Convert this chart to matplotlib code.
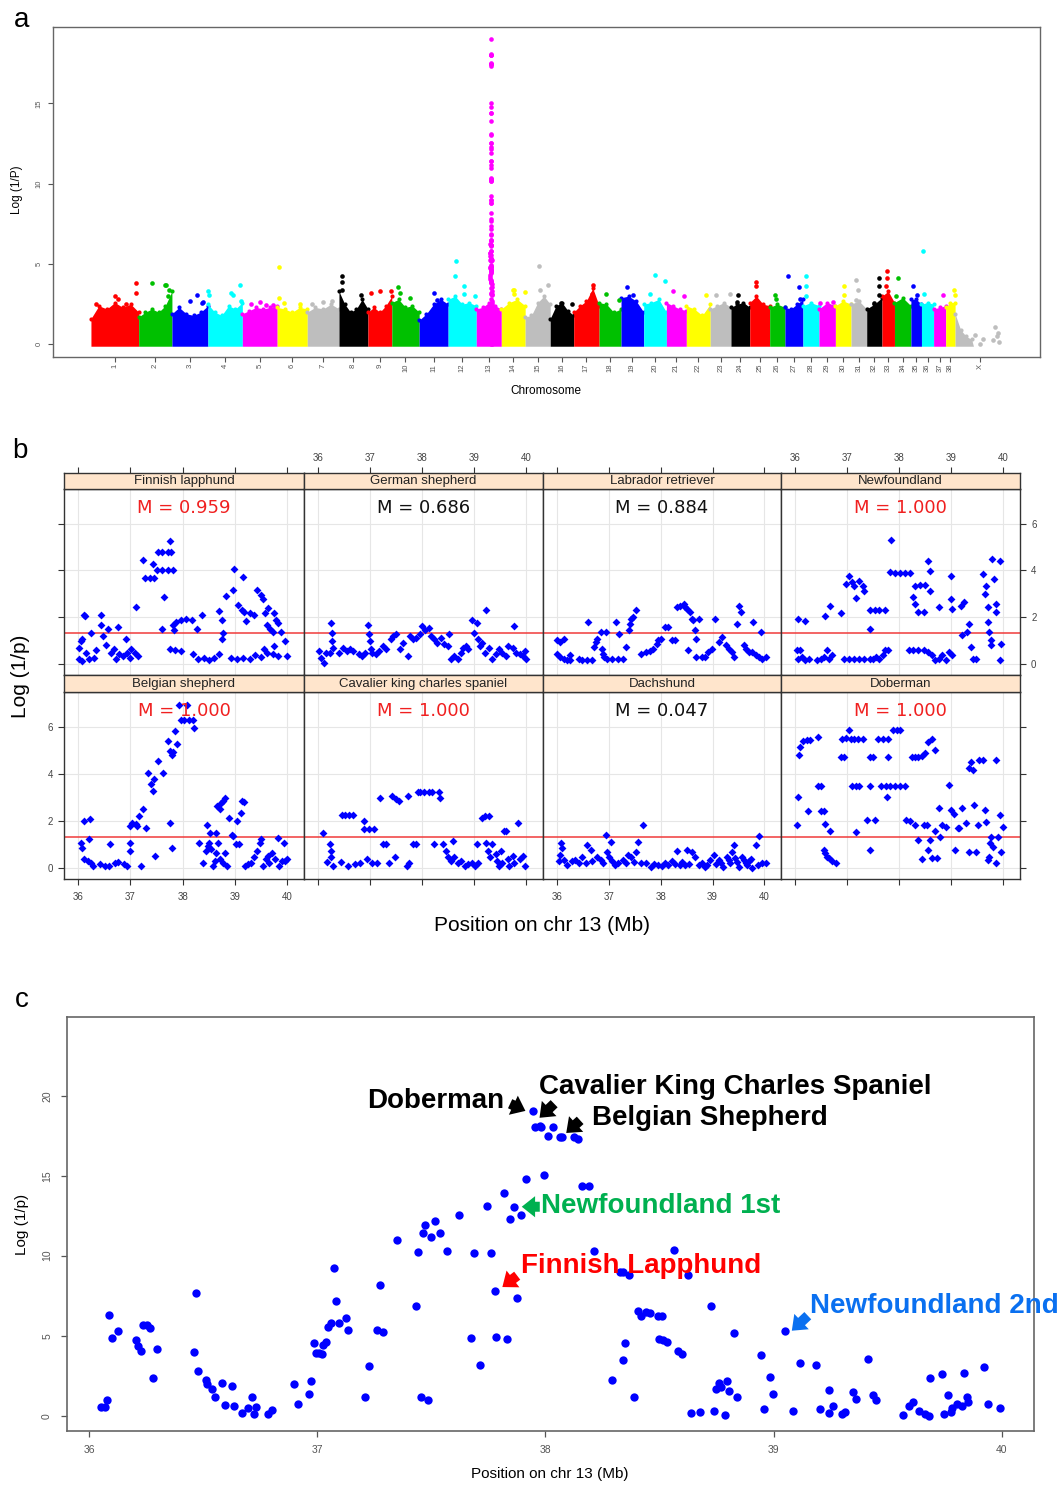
#!/usr/bin/env python3

import numpy as np
import matplotlib
matplotlib.use("Agg")
import matplotlib.pyplot as plt
from matplotlib.patches import FancyArrowPatch

plt.rcParams["font.family"] = ["Liberation Sans", "DejaVu Sans"]

W, H = 1062, 1485

# ---------------- panel a: genome-wide scan ----------------
chrom_names = [str(i) for i in range(1, 39)] + ["X"]
chrom_len = [122, 85, 92, 88, 89, 77, 81, 74, 61, 70, 74, 72, 64, 61, 64, 60, 65, 56, 58,
             58, 51, 61, 53, 48, 51, 39, 46, 41, 42, 40, 40, 39, 32, 42, 27, 31, 31, 24, 127]
# upper edge of the dense bulk of SNPs, along each chromosome
chrom_env = [
    [1.6, 2.4, 2.2, 2.6, 2.3, 2.5, 2.0], [1.7, 2.0, 2.2, 2.0, 2.4, 3.3],
    [1.9, 2.3, 1.9, 1.8, 2.0, 2.4], [2.5, 2.0, 1.8, 2.4, 2.2, 2.6],
    [1.9, 2.1, 2.3, 2.2, 2.3, 2.4], [2.3, 2.2, 2.0, 2.3, 2.2],
    [2.0, 2.3, 2.2, 2.5, 2.2], [3.3, 2.5, 2.0, 2.2, 2.8, 2.2],
    [2.0, 2.3, 2.0, 2.4, 3.0], [2.6, 2.8, 2.3, 2.4, 2.0],
    [1.5, 1.9, 2.5, 2.8, 2.5], [2.8, 3.0, 2.5, 2.6, 2.4],
    [2.2, 2.3, 2.6, 2.4, 2.2], [2.2, 2.6, 2.8, 2.4],
    [1.7, 1.8, 2.6, 3.0, 2.5], [1.6, 2.4, 2.6, 2.1, 1.8],
    [2.0, 2.4, 2.7, 3.5, 2.4], [2.6, 2.5, 2.0, 2.2],
    [2.9, 3.0, 2.7, 2.0], [2.5, 2.6, 2.8, 2.0],
    [2.6, 2.4, 2.2, 2.1], [2.4, 2.2, 1.8, 2.5],
    [2.2, 2.4, 2.6, 2.3], [2.3, 2.5, 2.6, 2.3],
    [2.6, 3.0, 2.5, 2.4], [2.3, 2.5, 2.3],
    [2.3, 2.2, 2.5, 2.8], [2.4, 2.6, 2.4],
    [2.2, 2.6, 2.4], [2.4, 2.7, 2.5],
    [2.5, 2.7, 2.2], [2.2, 2.5, 2.9],
    [3.0, 3.3, 2.6], [2.6, 2.9, 2.4],
    [2.8, 2.8, 2.5], [2.5, 2.6, 2.5],
    [2.2, 2.3, 2.4], [2.3, 2.6, 2.6],
    [1.9, 0.9, 0.5, 0.3, -1, -1, -1, -1, -1, -1],
]
# isolated SNPs above the bulk: (chromosome, Mb, log(1/P))
peaks_a = [
    ("1", 12, 2.5), ("1", 61, 3.0), ("1", 70, 2.8), ("1", 89, 2.5), ("1", 116, 3.8), ("1", 116, 3.2),
    ("2", 35, 3.8), ("2", 67, 3.7), ("2", 71, 3.7), ("2", 78, 3.4), ("2", 76, 3.0),
    ("3", 46, 2.7), ("3", 63, 3.1), ("3", 76, 2.6), ("3", 80, 2.65),
    ("4", 1, 3.3), ("4", 3, 3.1), ("4", 58, 3.2), ("4", 64, 3.1), ("4", 83, 3.7), ("4", 84, 2.7),
    ("5", 21, 2.5), ("5", 45, 2.65), ("5", 60, 2.45), ("5", 78, 2.45),
    ("6", 5, 4.8), ("6", 5, 2.9), ("6", 18, 2.55), ("6", 58, 2.5),
    ("7", 11, 2.5), ("7", 39, 2.65), ("7", 62, 2.7),
    ("8", 8, 4.25), ("8", 8, 3.85), ("8", 7, 3.35), ("8", 56, 3.1),
    ("9", 9, 3.2), ("9", 32, 3.3), ("9", 59, 3.3),
    ("10", 16, 3.55), ("10", 20, 3.2), ("10", 46, 2.9),
    ("11", 38, 3.2), ("11", 45, 2.75),
    ("12", 19, 5.2), ("12", 18, 4.25), ("12", 40, 3.6), ("12", 40, 3.15), ("12", 68, 3.0),
    ("14", 30, 3.4), ("14", 33, 3.4), ("14", 32, 3.15), ("14", 60, 3.25),
    ("15", 36, 4.9), ("15", 59, 3.7), ("15", 37, 3.4),
    ("16", 27, 2.55), ("16", 55, 2.5),
    ("17", 50, 3.7), ("17", 46, 3.15),
    ("18", 18, 3.15), ("18", 52, 2.75),
    ("19", 14, 3.55), ("19", 31, 3.05),
    ("20", 29, 4.3), ("20", 54, 3.95), ("20", 16, 3.15),
    ("21", 18, 3.3), ("21", 45, 3.0),
    ("22", 50, 3.05),
    ("23", 15, 3.05), ("23", 51, 3.15),
    ("24", 17, 3.05), ("24", 16, 2.65),
    ("25", 16, 3.9), ("25", 17, 3.6), ("25", 22, 2.6),
    ("26", 14, 3.05), ("26", 16, 2.8),
    ("27", 7, 4.25), ("27", 37, 3.55), ("27", 38, 2.85),
    ("28", 8, 4.25), ("28", 9, 3.65), ("28", 8, 3.0),
    ("29", 3, 2.6), ("29", 35, 2.65),
    ("30", 22, 3.65), ("30", 21, 3.05),
    ("31", 13, 4.0), ("31", 17, 3.4), ("31", 12, 2.75),
    ("32", 32, 4.1), ("32", 32, 3.6), ("32", 32, 3.05), ("32", 18, 2.6),
    ("33", 12, 4.55), ("33", 13, 4.1), ("33", 10, 3.6),
    ("34", 10, 4.1), ("34", 5, 3.0),
    ("35", 5, 3.65), ("35", 15, 3.05),
    ("36", 5, 5.8), ("36", 6, 3.15),
    ("37", 25, 3.1),
    ("38", 22, 3.35), ("38", 23, 3.05),
    ("X", 51, 0.6), ("X", 72, 0.35), ("X", 102, 1.05), ("X", 106, 0.5),
    ("X", 110, 0.7), ("X", 112, 0.15), ("X", 98, 0.25), ("X", 64, 0.05),
]
palette = ["#FF0000", "#00C000", "#0000FF", "#00FFFF", "#FF00FF", "#FFFF00", "#BEBEBE", "#000000"]

# ---------------- panel b: per-breed chr13 scans ----------------
breeds = ["Finnish lapphund", "German shepherd", "Labrador retriever", "Newfoundland",
          "Belgian shepherd", "Cavalier king charles spaniel", "Dachshund", "Doberman"]
breed_m = [0.959, 0.686, 0.884, 1.000, 1.000, 1.000, 0.047, 1.000]

finnish = [(36.01, 0.68), (36.07, 1.04), (36.05, 0.96), (36.12, 2.10), (36.14, 2.03), (36.16, 0.47),
           (36.02, 0.21), (36.07, 0.11), (36.21, 0.18), (36.25, 1.32), (36.30, 0.26), (36.35, 0.58),
           (36.44, 2.10), (36.44, 1.67), (36.48, 1.18), (36.53, 0.78), (36.58, 1.49), (36.63, 0.47),
           (36.68, 0.61), (36.72, 0.18), (36.76, 1.56), (36.79, 0.40), (36.86, 0.33), (36.91, 1.06),
           (36.93, 0.47), (36.99, 0.26), (37.02, 0.61), (37.09, 0.47), (37.15, 0.33), (37.11, 2.43),
           (37.24, 4.44), (37.28, 3.69), (37.38, 3.69), (37.45, 3.69), (37.43, 4.27), (37.53, 4.79),
           (37.61, 4.79), (37.71, 4.79), (37.78, 4.79), (37.76, 5.26), (37.51, 4.01), (37.61, 4.01),
           (37.71, 4.01), (37.81, 4.01), (37.64, 2.84), (37.60, 1.49), (37.81, 1.67), (37.88, 1.77),
           (37.97, 1.89), (38.07, 1.91), (38.17, 1.89), (37.84, 1.46), (37.76, 0.64), (37.86, 0.58),
           (37.97, 0.52), (38.20, 0.40), (38.30, 0.18), (38.40, 0.26), (38.50, 0.16), (38.60, 0.26),
           (38.70, 0.40), (38.37, 2.10), (38.27, 1.50), (38.70, 2.24), (38.76, 1.89), (38.78, 1.32),
           (38.75, 1.04), (38.82, 2.88), (38.98, 4.04), (38.96, 3.16), (39.06, 2.52), (39.13, 2.31),
           (39.17, 2.20), (39.16, 3.73), (39.22, 1.82), (39.29, 2.17), (39.36, 2.10), (39.43, 3.16),
           (39.50, 2.95), (39.54, 2.77), (39.57, 2.17), (39.63, 2.38), (39.61, 1.67), (39.67, 1.49),
           (39.72, 1.35), (39.75, 2.17), (39.78, 1.89), (39.83, 1.72), (39.88, 1.35), (39.95, 0.96),
           (39.99, 0.33), (38.93, 0.26), (39.03, 0.18), (39.16, 0.26), (39.28, 0.21), (39.39, 0.35),
           (39.49, 0.30), (39.61, 0.47), (39.72, 0.40), (39.82, 0.33), (39.75, 0.75), (39.55, 0.61)]
german = [(36.02, 0.54), (36.05, 0.26), (36.12, 0.04), (36.15, 0.47), (36.25, 1.74), (36.26, 1.32),
          (36.26, 0.96), (36.28, 0.68), (36.22, 0.47), (36.41, 0.47), (36.48, 0.68), (36.55, 0.54),
          (36.61, 0.61), (36.68, 0.54), (36.78, 0.40), (36.84, 0.33), (36.91, 0.47), (36.96, 1.67),
          (36.97, 1.25), (36.99, 0.96), (37.01, 0.61), (37.04, 0.47), (37.11, 0.40), (37.17, 0.54),
          (37.24, 0.75), (37.30, 0.61), (37.40, 1.04), (37.43, 1.18), (37.50, 1.25), (37.57, 0.61),
          (37.63, 0.89), (37.73, 0.33), (37.76, 1.18), (37.83, 1.04), (37.89, 1.11), (37.96, 1.25),
          (37.99, 1.60), (38.06, 1.46), (38.13, 1.53), (38.16, 1.18), (38.22, 1.04), (38.29, 0.89),
          (38.36, 1.11), (38.42, 0.82), (38.49, 0.75), (38.52, 1.25), (38.55, 0.18), (38.62, 0.33),
          (38.68, 0.18), (38.75, 0.47), (38.78, 0.68), (38.85, 0.75), (38.88, 0.61), (38.95, 1.89),
          (39.00, 1.32), (39.05, 1.74), (39.08, 1.04), (39.11, 0.75), (39.14, 0.89), (39.21, 0.47),
          (39.23, 2.28), (39.28, 0.68), (39.34, 0.18), (39.41, 0.40), (39.47, 0.61), (39.54, 0.47),
          (39.61, 0.33), (39.64, 0.75), (39.74, 0.68), (39.77, 1.60), (39.80, 0.47), (39.87, 0.40),
          (39.93, 0.33), (39.97, 0.54), (40.00, 0.18)]
labrador = [(36.00, 1.00), (36.06, 0.92), (36.13, 1.07), (36.00, 0.43), (36.06, 0.28), (36.13, 0.21),
            (36.19, 0.14), (36.26, 0.14), (36.25, 0.36), (36.42, 0.21), (36.49, 0.14), (36.58, 0.14),
            (36.68, 0.14), (36.60, 1.78), (36.71, 0.71), (36.75, 0.92), (36.78, 1.07), (36.86, 0.64),
            (36.88, 0.43), (36.91, 0.28), (36.97, 0.21), (37.07, 0.21), (37.17, 0.18), (37.27, 0.21),
            (36.84, 1.35), (36.94, 1.35), (37.14, 1.78), (37.20, 1.28), (37.33, 0.71), (37.38, 1.42),
            (37.40, 1.71), (37.43, 1.92), (37.46, 1.99), (37.53, 2.30), (37.62, 0.43), (37.72, 0.50),
            (37.79, 0.53), (37.85, 0.64), (37.92, 0.85), (37.95, 1.00), (38.01, 1.07), (38.08, 1.59),
            (38.14, 1.56), (38.21, 1.00), (38.27, 1.00), (38.31, 2.42), (38.37, 2.49), (38.44, 2.56),
            (38.47, 2.42), (38.50, 2.35), (38.53, 0.57), (38.56, 2.20), (38.60, 1.92), (38.63, 1.85),
            (38.66, 1.42), (38.69, 1.07), (38.73, 1.92), (38.69, 0.28), (38.79, 0.28), (38.86, 0.28),
            (38.92, 0.50), (38.99, 0.64), (39.05, 1.92), (39.12, 0.92), (39.18, 1.14), (39.25, 0.78),
            (39.31, 0.64), (39.38, 0.50), (39.41, 0.28), (39.47, 1.71), (39.51, 2.49), (39.54, 2.20),
            (39.60, 0.78), (39.64, 0.64), (39.70, 0.50), (39.77, 0.50), (39.78, 1.78), (39.83, 0.36),
            (39.90, 0.28), (39.93, 1.35), (39.96, 0.21), (40.03, 0.28)]
newfoundland = [(36.05, 1.92), (36.19, 1.81), (36.03, 0.57), (36.10, 0.57), (36.06, 0.21), (36.13, 0.28),
                (36.19, 0.14), (36.26, 0.21), (36.42, 0.14), (36.49, 0.21), (36.55, 0.28), (36.62, 0.57),
                (36.65, 0.21), (36.71, 0.36), (36.58, 2.02), (36.68, 2.45), (36.88, 2.16), (36.97, 3.41),
                (37.04, 3.77), (37.10, 3.51), (37.14, 3.34), (37.17, 2.80), (37.23, 3.56), (37.30, 3.34),
                (37.33, 3.13), (36.94, 0.21), (37.04, 0.21), (37.14, 0.21), (37.23, 0.21), (37.33, 0.21),
                (37.43, 0.21), (37.49, 0.21), (37.56, 0.28), (37.62, 0.21), (37.69, 0.36), (37.72, 0.57),
                (37.79, 0.57), (37.43, 2.28), (37.53, 2.28), (37.62, 2.28), (37.72, 2.28), (37.43, 1.47),
                (37.85, 5.31), (37.82, 3.91), (37.92, 3.88), (38.01, 3.88), (38.11, 3.88), (38.21, 3.88),
                (38.18, 0.57), (38.27, 0.57), (38.37, 0.57), (38.47, 0.57), (38.56, 0.50), (38.63, 0.36),
                (38.69, 0.14), (38.76, 0.21), (38.82, 0.36), (38.89, 0.14), (38.95, 0.50), (39.02, 0.36),
                (38.31, 3.34), (38.40, 3.39), (38.50, 3.39), (38.56, 4.41), (38.60, 3.98), (38.60, 3.13),
                (38.27, 2.84), (38.31, 2.56), (38.37, 2.23), (38.47, 2.23), (38.76, 2.42), (38.99, 3.77),
                (38.99, 2.77), (39.01, 2.35), (39.18, 2.49), (39.25, 2.63), (39.21, 1.21), (39.31, 1.35),
                (39.34, 1.68), (39.38, 0.71), (39.41, 0.21), (39.47, 0.21), (39.60, 3.84), (39.64, 2.99),
                (39.67, 3.34), (39.70, 2.42), (39.70, 1.78), (39.73, 1.35), (39.77, 1.00), (39.77, 0.78),
                (39.79, 4.48), (39.83, 3.63), (39.85, 2.56), (39.86, 2.20), (39.93, 4.41), (39.96, 0.85),
                (39.93, 0.14)]
belgian = [(36.05, 1.06), (36.08, 0.85), (36.11, 1.99), (36.22, 2.06), (36.20, 1.21), (36.11, 0.35),
           (36.18, 0.28), (36.24, 0.21), (36.28, 0.07), (36.41, 0.14), (36.51, 0.07), (36.59, 0.07),
           (36.61, 0.99), (36.70, 0.21), (36.77, 0.24), (36.87, 0.14), (36.93, 0.07), (36.99, 1.06),
           (37.00, 0.71), (36.99, 1.77), (37.03, 1.91), (37.10, 1.84), (37.13, 1.77), (37.16, 2.20),
           (37.20, 0.07), (37.25, 2.48), (37.30, 1.70), (37.34, 4.04), (37.39, 3.55), (37.43, 3.26),
           (37.45, 3.76), (37.47, 0.50), (37.53, 4.54), (37.63, 4.04), (37.71, 5.39), (37.76, 4.96),
           (37.79, 4.82), (37.82, 4.92), (37.86, 5.82), (37.89, 5.29), (37.76, 1.91), (37.79, 0.85),
           (37.92, 6.95), (37.97, 6.31), (38.02, 6.31), (38.09, 6.95), (38.12, 6.31), (38.20, 6.31),
           (38.22, 5.96), (38.32, 1.06), (38.38, 0.21), (38.45, 0.71), (38.48, 0.92), (38.51, 1.06),
           (38.55, 0.78), (38.58, 0.07), (38.61, 0.28), (38.64, 0.64), (38.68, 1.06), (38.46, 1.80),
           (38.53, 1.49), (38.64, 1.49), (38.66, 2.62), (38.71, 2.48), (38.74, 2.77), (38.78, 2.84),
           (38.81, 2.98), (38.71, 0.35), (38.78, 0.21), (38.81, 0.64), (38.84, 0.07), (38.89, 2.13),
           (38.94, 1.39), (38.97, 1.35), (39.01, 0.99), (39.04, 1.99), (39.07, 0.99), (39.11, 2.34),
           (39.14, 2.84), (39.18, 2.79), (39.20, 0.07), (39.24, 0.14), (39.30, 0.21), (39.37, 0.43),
           (39.42, 0.71), (39.47, 1.06), (39.50, 1.21), (39.53, 0.07), (39.60, 0.35), (39.63, 0.50),
           (39.66, 0.21), (39.70, 0.64), (39.76, 0.35), (39.82, 1.28), (39.84, 0.07), (39.89, 0.28),
           (39.93, 1.06), (39.96, 0.28), (39.99, 0.35)]
cavalier = [(36.09, 1.46), (36.22, 0.99), (36.24, 0.71), (36.25, 0.43), (36.18, 0.24), (36.28, 0.07),
            (36.45, 0.24), (36.46, 2.24), (36.51, 2.24), (36.59, 2.24), (36.68, 2.24), (36.58, 0.07),
            (36.71, 0.14), (36.81, 0.21), (36.88, 1.99), (36.89, 1.63), (36.97, 1.63), (37.07, 1.63),
            (36.94, 0.35), (37.04, 0.21), (37.14, 0.21), (37.18, 2.98), (37.25, 0.99), (37.30, 0.99),
            (37.37, 0.21), (37.47, 0.43), (37.42, 3.05), (37.50, 2.91), (37.55, 2.84), (37.70, 0.07),
            (37.75, 0.21), (37.73, 3.05), (37.83, 0.99), (37.89, 0.99), (37.91, 3.23), (37.96, 3.23),
            (38.03, 3.23), (38.13, 3.23), (38.19, 3.23), (38.32, 3.23), (38.34, 2.98), (38.22, 0.99),
            (38.39, 0.99), (38.45, 0.71), (38.49, 0.43), (38.55, 0.28), (38.59, 1.13), (38.62, 0.43),
            (38.68, 0.21), (38.75, 0.28), (38.82, 0.07), (38.88, 0.14), (38.95, 0.21), (39.01, 0.07),
            (39.05, 0.99), (39.08, 0.21), (39.14, 2.13), (39.21, 2.20), (39.28, 2.20), (39.22, 1.06),
            (39.26, 0.71), (39.31, 0.43), (39.34, 0.99), (39.41, 0.57), (39.44, 0.28), (39.47, 0.07),
            (39.51, 0.71), (39.54, 0.21), (39.57, 1.56), (39.61, 1.56), (39.64, 0.35), (39.67, 0.07),
            (39.74, 0.50), (39.77, 0.21), (39.84, 1.91), (39.87, 0.35), (39.93, 0.50), (39.97, 0.07)]
dachshund = [(36.08, 1.04), (36.10, 0.82), (36.06, 0.54), (36.03, 0.26), (36.13, 0.33), (36.19, 0.11),
             (36.29, 0.26), (36.42, 0.18), (36.49, 0.47), (36.58, 0.96), (36.65, 0.75), (36.68, 0.26),
             (36.78, 0.47), (36.88, 0.18), (36.94, 1.39), (36.97, 0.68), (37.04, 1.11), (37.01, 0.47),
             (37.07, 0.26), (37.17, 0.18), (37.27, 0.33), (37.36, 0.54), (37.43, 0.47), (37.53, 0.68),
             (37.56, 1.11), (37.66, 1.82), (37.62, 0.18), (37.72, 0.18), (37.82, 0.04), (37.95, 0.11),
             (38.08, 0.18), (38.21, 0.26), (38.32, 0.72), (38.37, 0.11), (38.47, 0.11), (38.50, 0.75),
             (38.60, 0.68), (38.66, 0.47), (38.73, 0.11), (38.86, 0.04), (38.95, 0.33), (39.02, 0.54),
             (39.12, 0.33), (39.21, 0.04), (39.28, 0.47), (39.34, 0.18), (39.38, 0.68), (39.41, 0.96),
             (39.44, 0.40), (39.51, 0.04), (39.57, 0.47), (39.64, 0.18), (39.70, 0.26), (39.77, 0.00),
             (39.83, 0.96), (39.90, 1.36), (39.96, 0.18), (40.03, 0.21), (36.35, 0.30), (36.55, 0.20),
             (36.85, 0.30), (37.12, 0.10), (37.33, 0.20), (37.48, 0.25), (37.88, 0.15), (38.02, 0.08),
             (38.15, 0.12), (38.27, 0.15), (38.42, 0.25), (38.55, 0.15), (38.80, 0.20), (38.90, 0.12),
             (39.07, 0.15), (39.17, 0.20), (39.31, 0.30), (39.47, 0.25), (39.60, 0.30), (39.67, 0.10),
             (39.74, 0.35), (39.87, 0.12)]
doberman = [(36.03, 1.82), (36.06, 3.02), (36.08, 4.79), (36.10, 5.15), (36.16, 5.40), (36.23, 5.43),
            (36.29, 5.43), (36.44, 5.57), (36.25, 2.41), (36.45, 3.48), (36.49, 3.48), (36.50, 2.41),
            (36.55, 2.41), (36.57, 1.86), (36.68, 1.56), (36.55, 0.75), (36.58, 0.61), (36.62, 0.47),
            (36.65, 0.40), (36.71, 0.26), (36.78, 0.18), (36.88, 4.70), (36.94, 4.70), (36.91, 5.50),
            (36.97, 5.53), (37.04, 5.86), (37.07, 5.50), (37.14, 5.50), (37.20, 5.50), (37.30, 5.50),
            (37.10, 3.48), (37.17, 3.48), (37.23, 3.48), (37.17, 1.53), (37.38, 2.03), (37.53, 2.03),
            (37.43, 0.75), (37.43, 4.70), (37.49, 4.70), (37.43, 3.48), (37.59, 5.50), (37.69, 5.50),
            (37.79, 5.50), (37.66, 3.48), (37.75, 3.48), (37.82, 3.48), (37.92, 3.48), (38.01, 3.48),
            (38.11, 3.48), (37.79, 4.70), (37.77, 3.02), (37.88, 5.86), (37.95, 5.86), (38.01, 5.86),
            (38.14, 2.03), (38.21, 2.00), (38.24, 4.70), (38.31, 4.70), (38.37, 4.70), (38.44, 4.75),
            (38.50, 4.87), (38.56, 5.36), (38.63, 5.50), (38.69, 5.01), (38.31, 1.82), (38.37, 1.18),
            (38.44, 0.37), (38.47, 1.82), (38.53, 1.82), (38.56, 0.75), (38.60, 1.18), (38.63, 0.40),
            (38.69, 1.57), (38.76, 2.52), (38.73, 0.40), (38.79, 1.32), (38.82, 1.82), (38.89, 1.74),
            (38.95, 3.52), (38.99, 2.45), (39.05, 2.28), (39.08, 0.75), (39.12, 1.67), (39.15, 1.67),
            (39.21, 2.52), (39.28, 1.89), (39.34, 0.68), (39.38, 4.51), (39.34, 4.23), (39.41, 4.16),
            (39.44, 2.67), (39.47, 0.68), (39.51, 1.82), (39.54, 4.58), (39.60, 4.58), (39.64, 2.45),
            (39.67, 1.96), (39.70, 0.33), (39.73, 0.47), (39.75, 1.04), (39.77, 1.29), (39.80, 0.89),
            (39.86, 4.58), (39.86, 0.21), (39.90, 1.32), (39.93, 2.24), (39.96, 0.68), (40.00, 1.74)]
breed_points = [finnish, german, labrador, newfoundland, belgian, cavalier, dachshund, doberman]

# ---------------- panel c: meta-analysis on chr13 ----------------
meta = [(36.053, 0.54), (36.071, 0.54), (36.077, 1.00), (36.087, 6.27), (36.099, 4.83), (36.128, 5.27),
        (36.205, 4.75), (36.214, 4.33), (36.225, 4.06), (36.234, 5.69), (36.254, 5.69), (36.267, 5.48),
        (36.279, 2.35), (36.295, 4.17), (36.459, 3.96), (36.469, 7.67), (36.478, 2.81), (36.512, 2.25),
        (36.515, 1.98), (36.536, 1.69), (36.551, 1.19), (36.582, 2.04), (36.594, 0.69), (36.626, 1.85),
        (36.633, 0.58), (36.668, 0.17), (36.694, 0.46), (36.712, 1.19), (36.723, 0.08), (36.730, 0.54),
        (36.784, 0.08), (36.799, 0.38), (36.897, 1.96), (36.914, 0.71), (36.963, 1.38), (36.972, 2.19),
        (36.984, 4.52), (36.993, 3.90), (37.008, 3.90), (37.020, 3.83), (37.024, 4.42), (37.037, 4.60),
        (37.046, 5.54), (37.058, 5.79), (37.071, 9.21), (37.080, 7.15), (37.096, 5.79), (37.124, 6.10),
        (37.136, 5.38), (37.210, 1.19), (37.226, 3.13), (37.262, 5.33), (37.276, 8.15), (37.286, 5.25),
        (37.350, 11.00), (37.431, 6.88), (37.443, 10.25), (37.453, 1.15), (37.465, 11.42), (37.472, 11.92),
        (37.484, 1.00), (37.496, 11.19), (37.514, 12.15), (37.537, 11.42), (37.567, 10.31), (37.622, 12.52),
        (37.672, 4.88), (37.686, 10.15), (37.714, 3.17), (37.743, 13.08), (37.759, 10.15), (37.778, 7.77),
        (37.783, 4.94), (37.816, 13.92), (37.833, 4.81), (37.844, 12.29), (37.863, 13.04), (37.875, 7.38),
        (37.892, 12.56), (37.915, 14.79), (37.947, 19.02), (37.953, 18.02), (37.974, 18.08), (37.982, 18.02),
        (37.992, 15.02), (38.012, 17.48), (38.033, 18.02), (38.065, 17.42), (38.073, 17.42), (38.124, 17.42),
        (38.144, 17.31), (38.162, 14.38), (38.190, 14.38), (38.212, 10.27), (38.291, 2.21), (38.326, 8.96),
        (38.341, 8.96), (38.341, 3.50), (38.349, 4.54), (38.364, 8.81), (38.390, 1.17), (38.407, 6.52),
        (38.420, 6.21), (38.440, 6.48), (38.460, 6.42), (38.493, 6.21), (38.499, 4.79), (38.511, 6.21),
        (38.516, 4.71), (38.533, 4.60), (38.564, 10.33), (38.580, 4.02), (38.599, 3.88), (38.625, 8.81),
        (38.636, 0.17), (38.678, 0.23), (38.725, 6.83), (38.739, 0.27), (38.748, 1.67), (38.759, 2.04),
        (38.771, 1.77), (38.785, 0.02), (38.794, 2.19), (38.804, 1.56), (38.827, 5.17), (38.838, 1.15),
        (38.944, 3.77), (38.956, 0.42), (38.986, 2.44), (38.997, 1.38), (39.052, 5.27), (39.083, 0.27),
        (39.118, 3.29), (39.184, 3.15), (39.203, 0.44), (39.241, 1.63), (39.244, 0.17), (39.262, 0.58),
        (39.300, 0.13), (39.313, 0.21), (39.347, 1.48), (39.361, 1.06), (39.416, 3.56), (39.437, 1.27),
        (39.449, 0.96), (39.566, 0.06), (39.593, 0.58), (39.613, 0.83), (39.639, 0.27), (39.662, 0.10),
        (39.680, 0.00), (39.684, 2.33), (39.737, 2.60), (39.745, 0.10), (39.763, 1.27), (39.778, 0.23),
        (39.783, 0.48), (39.806, 0.73), (39.825, 0.58), (39.836, 2.67), (39.848, 1.17), (39.853, 0.85),
        (39.923, 3.04), (39.942, 0.75), (39.991, 0.46)]


def box(x0, y0, x1, y1):
    # pixel box (top-left origin) -> figure fraction rect
    return [x0 / W, 1 - y1 / H, (x1 - x0) / W, (y1 - y0) / H]


def panel_a(fig):
    ax = fig.add_axes(box(53, 27, 1040, 357))
    starts = np.concatenate([[0], np.cumsum(chrom_len)[:-1]])
    for i, name in enumerate(chrom_names):
        col = palette[i % 8]
        env = np.array(chrom_env[i], float)
        xs = starts[i] + np.linspace(0, chrom_len[i], len(env))
        ax.fill_between(xs, -0.12, env, where=env > -0.12, interpolate=True, color=col, lw=0)
        # rim of dots along the top of the bulk
        ax.scatter(xs[env > 0], env[env > 0], s=9, color=col, lw=0)
    for chrom, mb, v in peaks_a:
        i = chrom_names.index(chrom)
        ax.scatter(starts[i] + mb, v, s=11, color=palette[i % 8], lw=0, zorder=3)
    m = np.array(meta)
    i13 = chrom_names.index("13")
    ax.scatter(starts[i13] + m[:, 0], m[:, 1], s=11, color=palette[i13 % 8], lw=0, zorder=3)

    ax.set_xlim(-97, 2426)
    ax.set_ylim(-0.79, 19.75)
    ax.set_xticks(starts + np.array(chrom_len) / 2, chrom_names, rotation=90)
    ax.set_yticks([0, 5, 10, 15], ["0", "5", "10", "15"], rotation=90, va="center")
    ax.tick_params(labelsize=5.5, labelcolor="#555555", color="#555555", length=3.5, width=0.8)
    ax.tick_params(axis="x", pad=1.5)
    ax.tick_params(axis="y", pad=4)
    for s in ax.spines.values():
        s.set_color("#666666")
        s.set_linewidth(1.0)
    fig.text(17 / W, 1 - 190 / H, "Log (1/P)", rotation=90, ha="center", va="center", fontsize=8.5)
    fig.text(546 / W, 1 - 391 / H, "Chromosome", ha="center", va="center", fontsize=8.5)


def panel_b(fig):
    col_x = [64, 304, 543, 781, 1020]
    strip_y = [(473, 489), (675, 692)]
    panel_y = [(489, 675), (692, 879)]
    xlim, ylim = (35.73, 40.32), (-0.49, 7.49)
    xt, yt = [36, 37, 38, 39, 40], [0, 2, 4, 6]
    tick_kw = dict(labelsize=7, labelcolor="#444444", color="#333333", length=4, width=0.8)

    for k, (name, mval, pts) in enumerate(zip(breeds, breed_m, breed_points)):
        r, c = divmod(k, 4)
        ax = fig.add_axes(box(col_x[c], panel_y[r][0], col_x[c + 1], panel_y[r][1]))
        sx = fig.add_axes(box(col_x[c], strip_y[r][0], col_x[c + 1], strip_y[r][1]))

        p = np.array(pts)
        ax.scatter(p[:, 0], p[:, 1], marker="D", s=16, color="#0000FF", lw=0, zorder=3)
        ax.axhline(1.3, color="#F03A3A", lw=1.1, zorder=2)
        ax.set_xlim(xlim)
        ax.set_ylim(ylim)
        ax.set_xticks(xt)
        ax.set_yticks(yt)
        ax.grid(True, color="#E6E6E6", lw=0.8)
        ax.set_axisbelow(True)
        ax.tick_params(**tick_kw)
        ax.tick_params(axis="x", top=False, bottom=(r == 1), labelbottom=(r == 1 and c in (0, 2)), pad=5)
        ax.tick_params(axis="y", left=(c == 0), labelleft=(c == 0 and r == 1),
                       right=(c == 3), labelright=(c == 3 and r == 0), pad=4)
        mcol = "#F02020" if mval > 0.9 else "#111111"
        ax.text(0.5, 0.9, f"M = {mval:.3f}", transform=ax.transAxes, ha="center", va="center",
                fontsize=13, color=mcol, family=["DejaVu Sans"], zorder=4)

        sx.set_facecolor("#FFE5CC")
        sx.set_xlim(xlim)
        sx.set_ylim(0, 1)
        sx.set_yticks([])
        sx.set_xticks(xt)
        sx.tick_params(**tick_kw)
        sx.tick_params(axis="x", bottom=False, labelbottom=False, top=(r == 0),
                       labeltop=(r == 0 and c in (1, 3)), pad=3)
        sx.text(0.5, 0.48, name, transform=sx.transAxes, ha="center", va="center",
                fontsize=9.5, color="#222222")
        for a in (ax, sx):
            for s in a.spines.values():
                s.set_color("#333333")
                s.set_linewidth(1.0)

    fig.text(20 / W, 1 - 676 / H, "Log (1/p)", rotation=90, ha="center", va="center", fontsize=15)
    fig.text(542 / W, 1 - 925 / H, "Position on chr 13 (Mb)", ha="center", va="center", fontsize=15)


def arrow(ax, tail, head, color):
    ax.add_patch(FancyArrowPatch(tail, head, arrowstyle="simple,head_length=0.6,head_width=0.95,tail_width=0.45",
                                 mutation_scale=16, color=color, lw=0, shrinkA=0, shrinkB=0,
                                 clip_on=False, zorder=4))


def panel_c(fig):
    ax = fig.add_axes(box(66.7, 1017, 1034.3, 1430.7))
    m = np.array(meta)
    ax.scatter(m[:, 0], m[:, 1], s=36, color="#0000FF", lw=0, zorder=3)
    ax.set_xlim(35.901, 40.143)
    ax.set_ylim(-0.94, 24.92)
    ax.set_xticks([36, 37, 38, 39, 40])
    ax.set_yticks([0, 5, 10, 15, 20], ["0", "5", "10", "15", "20"], rotation=90, va="center")
    ax.tick_params(labelsize=7.5, labelcolor="#555555", color="#555555", length=4.5, width=0.9)
    ax.tick_params(axis="x", pad=6)
    ax.tick_params(axis="y", pad=6)
    for s in ax.spines.values():
        s.set_color("#666666")
        s.set_linewidth(1.2)

    big = dict(fontsize=20, fontweight="bold", va="center")
    ax.text(37.821, 19.65, "Doberman", ha="right", color="black", **big)
    arrow(ax, (37.845, 19.50), (37.912, 19.05), "black")
    ax.text(37.97, 20.54, "Cavalier King Charles Spaniel", ha="left", color="black", **big)
    arrow(ax, (38.038, 19.50), (37.974, 18.62), "black")
    ax.text(38.202, 18.60, "Belgian Shepherd", ha="left", color="black", **big)
    arrow(ax, (38.152, 18.46), (38.091, 17.67), "black")
    ax.text(37.98, 13.08, "Newfoundland 1st", ha="left", color="#00B050", **big)
    arrow(ax, (37.975, 13.06), (37.896, 13.06), "#00B050")
    ax.text(37.894, 9.33, "Finnish Lapphund", ha="left", color="#FF0000", **big)
    arrow(ax, (37.876, 8.75), (37.811, 8.04), "#FF0000")
    ax.text(39.158, 6.83, "Newfoundland 2nd", ha="left", color="#0A70F0", **big)
    arrow(ax, (39.150, 6.25), (39.080, 5.31), "#0A70F0")

    fig.text(22 / W, 1 - 1224 / H, "Log (1/p)", rotation=90, ha="center", va="center", fontsize=11)
    fig.text(550 / W, 1 - 1474 / H, "Position on chr 13 (Mb)", ha="center", va="center", fontsize=11)


def main():
    fig = plt.figure(figsize=(W / 100, H / 100), dpi=100)
    panel_a(fig)
    panel_b(fig)
    panel_c(fig)
    for letter, (x, y) in zip("abc", [(22, 20), (20, 451), (22, 1000)]):
        fig.text(x / W, 1 - y / H, letter, ha="center", va="center", fontsize=20)
    fig.savefig("out.png", dpi=100)


if __name__ == "__main__":
    main()
